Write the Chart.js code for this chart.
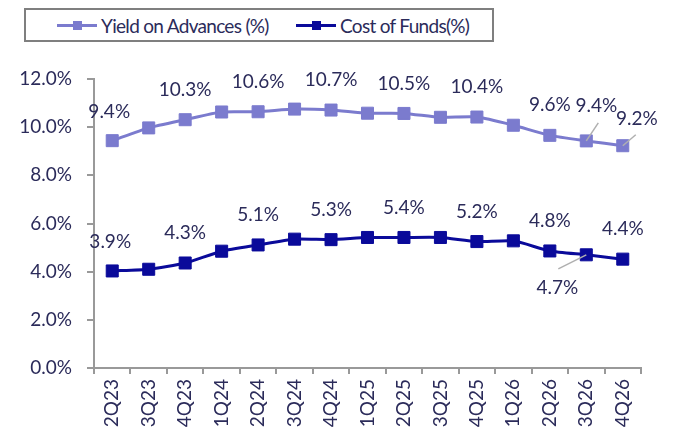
<!DOCTYPE html>
<html>
<head>
<meta charset="utf-8">
<script src="https://cdn.jsdelivr.net/npm/chart.js@4"></script>
<style>
    html, body { margin: 0; padding: 0; background: #fff; }
    #wrap { position: relative; width: 675px; height: 437px; font-family: Lato, sans-serif; }
    #legend {
        position: absolute; left: 24px; top: 8px; width: 470px; height: 34px;
        box-sizing: border-box; border: 2px solid #7f7f7f; background: #fff;
    }
    .leg-item { position: absolute; top: 0; height: 31px; display: flex; align-items: center; color: #2b2b5a; font-size: 19px; letter-spacing: -0.7px; white-space: nowrap; }
    .leg-sample { position: relative; width: 40px; height: 3px; margin-right: 4px; }
    .leg-sample span { position: absolute; left: 16px; top: -3px; width: 9px; height: 9px; }
</style>
</head>
<body>
<div id="wrap">
    <canvas id="yieldChart" width="675" height="437"></canvas>
    <div id="legend"></div>
</div>
<script>
// Quarters on the x axis
const quarters = ['2Q23', '3Q23', '4Q23', '1Q24', '2Q24', '3Q24', '4Q24', '1Q25', '2Q25', '3Q25', '4Q25', '1Q26', '2Q26', '3Q26', '4Q26'];

const seriesNames = ['Yield on Advances (%)', 'Cost of Funds(%)'];

// Values as plotted (%)
const yieldOnAdvances = [9.44, 9.97, 10.31, 10.63, 10.64, 10.75, 10.71, 10.58, 10.57, 10.41, 10.42, 10.08, 9.66, 9.43, 9.23];
const costOfFunds = [4.03, 4.10, 4.36, 4.85, 5.11, 5.35, 5.33, 5.42, 5.42, 5.42, 5.25, 5.28, 4.86, 4.70, 4.52];

// Data label texts as printed on the chart (null = no label)
const yieldLabels = ['9.4%', null, '10.3%', null, '10.6%', null, '10.7%', null, '10.5%', null, '10.4%', null, '9.6%', '9.4%', '9.2%'];
const costLabels = ['3.9%', null, '4.3%', null, '5.1%', null, '5.3%', null, '5.4%', null, '5.2%', null, '4.8%', '4.7%', '4.4%'];

const yTicks = [0, 2, 4, 6, 8, 10, 12];

const textColor = '#2b2b5a';
const axisColor = '#999999';
const yieldColor = '#7b7bce';
const costColor = '#0a0a9a';

// Label placement relative to the point: [dx, dy, leader line end dx, dy]
const labelPlacement = {
    0: { 0: [-3, -29], 13: [10, -35, 12, -18], 14: [14, -27, 13, -11] },
    1: { 0: [-2, -29], 13: [-29, 33, -28, 14] }
};

const pointLabels = {
    id: 'pointLabels',
    afterDatasetsDraw(chart) {
        const ctx = chart.ctx;
        const allLabels = [yieldLabels, costLabels];
        ctx.save();
        chart.data.datasets.forEach((ds, di) => {
            const meta = chart.getDatasetMeta(di);
            allLabels[di].forEach((txt, i) => {
                if (!txt) return;
                const pt = meta.data[i];
                const place = labelPlacement[di][i] || [0, -30];
                if (place.length > 2) {
                    ctx.strokeStyle = '#b0b0b0';
                    ctx.lineWidth = 1.5;
                    ctx.beginPath();
                    ctx.moveTo(pt.x + place[2], pt.y + place[3]);
                    ctx.lineTo(pt.x, pt.y);
                    ctx.stroke();
                }
                ctx.fillStyle = textColor;
                ctx.font = '19px Lato';
                ctx.textAlign = 'center';
                ctx.textBaseline = 'middle';
                ctx.fillText(txt, pt.x + place[0], pt.y + place[1]);
            });
        });
        ctx.restore();
    }
};

const colors = [yieldColor, costColor];

function buildLegend() {
    const legend = document.getElementById('legend');
    const lefts = [31, 270];
    seriesNames.forEach((name, i) => {
        const item = document.createElement('div');
        item.className = 'leg-item';
        item.style.left = lefts[i] + 'px';
        item.innerHTML = '<div class="leg-sample" style="background:' + colors[i] + '"><span style="background:' + colors[i] + '"></span></div>' + name;
        legend.appendChild(item);
    });
}

function initChart() {
    const ctx = document.getElementById('yieldChart');
    new Chart(ctx, {
        type: 'line',
        data: {
            labels: quarters,
            datasets: [
                {
                    label: seriesNames[0],
                    data: yieldOnAdvances,
                    borderColor: yieldColor,
                    backgroundColor: yieldColor,
                    borderWidth: 3,
                    tension: 0.2,
                    pointStyle: 'rect',
                    pointRadius: 8.5,
                    pointBorderWidth: 1,
                    pointBackgroundColor: yieldColor,
                    pointBorderColor: yieldColor
                },
                {
                    label: seriesNames[1],
                    data: costOfFunds,
                    borderColor: costColor,
                    backgroundColor: costColor,
                    borderWidth: 3,
                    tension: 0.2,
                    pointStyle: 'rect',
                    pointRadius: 8.5,
                    pointBorderWidth: 1,
                    pointBackgroundColor: costColor,
                    pointBorderColor: costColor
                }
            ]
        },
        options: {
            responsive: false,
            animation: false,
            events: [],
            layout: { padding: { left: 0, right: 34, top: 79, bottom: 0 } },
            plugins: {
                legend: { display: false },
                tooltip: { enabled: false }
            },
            scales: {
                x: {
                    offset: true,
                    afterFit: (scale) => { scale.height = 69; },
                    grid: { offset: true, drawOnChartArea: false, tickLength: 6, color: axisColor, lineWidth: 2 },
                    border: { color: axisColor, width: 2 },
                    ticks: {
                        color: textColor,
                        font: { family: 'Lato', size: 19 },
                        minRotation: 90,
                        maxRotation: 90,
                        padding: 5,
                        autoSkip: false
                    }
                },
                y: {
                    min: yTicks[0],
                    max: yTicks[yTicks.length - 1],
                    afterFit: (scale) => { scale.width = 94; },
                    afterBuildTicks: (scale) => { scale.ticks = yTicks.map(v => ({ value: v })); },
                    grid: { drawOnChartArea: false, tickLength: 7, color: axisColor, lineWidth: 2 },
                    border: { color: axisColor, width: 2 },
                    ticks: {
                        color: textColor,
                        font: { family: 'Lato', size: 19 },
                        padding: 15,
                        callback: (v) => v.toFixed(1) + '%'
                    }
                }
            }
        },
        plugins: [pointLabels]
    });
}

document.addEventListener('DOMContentLoaded', function() {
    buildLegend();
    initChart();
});
</script>
</body>
</html>
